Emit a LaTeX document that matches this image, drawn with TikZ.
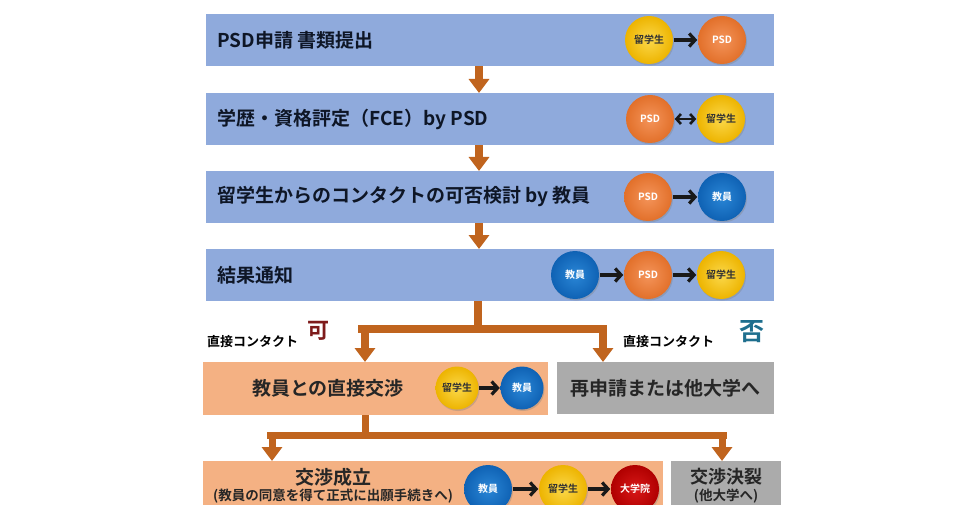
\documentclass[tikz,border=0pt]{standalone}
\usepackage{fontspec}
\setmainfont{Noto Sans CJK JP}[BoldFont={Noto Sans CJK JP Bold}]
\usetikzlibrary{arrows.meta,shadows}
\definecolor{barblue}{HTML}{8FAADC}
\definecolor{peach}{HTML}{F4B183}
\definecolor{greybox}{HTML}{ABABAB}
\definecolor{arrc}{HTML}{C0641E}
\definecolor{txtdark}{HTML}{0E1626}
\definecolor{yelL}{HTML}{FBD84A}
\definecolor{yelD}{HTML}{EDB400}
\definecolor{orgL}{HTML}{F4945A}
\definecolor{orgD}{HTML}{E2702A}
\definecolor{bluL}{HTML}{2A86D6}
\definecolor{bluD}{HTML}{0F62B4}
\definecolor{redL}{HTML}{D81818}
\definecolor{redD}{HTML}{B00000}
\definecolor{kaRed}{HTML}{7E1B1B}
\definecolor{hiTeal}{HTML}{1F6F8E}
\newcommand\fsz[1]{\fontsize{#1}{#1}\selectfont}
\begin{document}
\begin{tikzpicture}[x=1pt,y=-1pt,
  bar/.style={fill=barblue, draw=none, minimum height=52pt, minimum width=568pt, anchor=north west, inner sep=0pt},
  pbox/.style={fill=peach, draw=none, anchor=north west, inner sep=0pt},
  gbox/.style={fill=greybox, draw=none, anchor=north west, inner sep=0pt},
  bartxt/.style={anchor=west, inner sep=0pt, text=txtdark, font=\fsz{19}\bfseries},
  boxtxt/.style={inner sep=0pt, text=black!85, font=\fsz{19}\bfseries},
  subtxt/.style={inner sep=0pt, text=black!85, font=\fsz{13.5}\bfseries},
  lbltxt/.style={inner sep=0pt, text=black, font=\fsz{13}\bfseries},
  flow/.style={draw=arrc, line width=8pt, -{Triangle[width=20pt,length=14pt]}},
  conn/.style={draw=arrc, line width=8pt},
  circ/.style={circle, minimum size=48pt, inner sep=0pt, font=\fsz{10}\bfseries,
    drop shadow={shadow xshift=1pt, shadow yshift=-1.5pt, opacity=0.35}},
  scirc/.style={circ, minimum size=43pt},
  yel/.style={inner color=yelL, outer color=yelD, text=black!80},
  org/.style={inner color=orgL, outer color=orgD, text=white},
  blu/.style={inner color=bluL, outer color=bluD, text=white},
  rd/.style={inner color=redL, outer color=redD, text=white},
  carr/.style={line width=3.2pt, draw=black!90, -{Straight Barb[length=6pt,width=13pt]}, shorten <=0.5pt, shorten >=0.5pt},
  darr/.style={line width=2.6pt, draw=black!90, {Straight Barb[length=4.5pt,width=10pt]}-{Straight Barb[length=4.5pt,width=10pt]}, shorten <=0.5pt, shorten >=0.5pt}
]
\useasboundingbox (0,0) rectangle (960,505);
\fill[white] (0,0) rectangle (960,505);

% main bars
\node[bar] (b1) at (206,14) {};
\node[bar] (b2) at (206,93) {};
\node[bar] (b3) at (206,171) {};
\node[bar] (b4) at (206,249) {};

\node[bartxt] (t1) at (217,40) {PSD申請 書類提出};
\node[bartxt] (t2) at (217,119) {学歴・資格評定（FCE）by PSD};
\node[bartxt] (t3) at (217,197) {留学生からのコンタクトの可否検討 by 教員};
\node[bartxt] (t4) at (217,275) {結果通知};

% circles in bars
\node[circ,yel] (c11) at (649,40) {留学生};
\node[circ,org] (c12) at (722,40) {PSD};
\draw[carr] (c11) -- (c12);

\node[circ,org] (c21) at (650,119) {PSD};
\node[circ,yel] (c22) at (721,119) {留学生};
\draw[darr] (c21) -- (c22);

\node[circ,org] (c31) at (648,197) {PSD};
\node[circ,blu] (c32) at (722,197) {教員};
\draw[carr] (c31) -- (c32);

\node[circ,blu] (c41) at (575,275) {教員};
\node[circ,org] (c42) at (648,275) {PSD};
\node[circ,yel] (c43) at (721,275) {留学生};
\draw[carr] (c41) -- (c42);
\draw[carr] (c42) -- (c43);

% arrows between bars
\coordinate (ax) at (479,0);
\draw[flow] (b1.south -| ax) -- (b2.north -| ax);
\draw[flow] (b2.south -| ax) -- (b3.north -| ax);
\draw[flow] (b3.south -| ax) -- (b4.north -| ax);

% second level boxes
\node[pbox, minimum width=345pt, minimum height=53pt] (p1) at (203,362) {};
\node[gbox, minimum width=217pt, minimum height=52pt] (g1) at (557,362) {};
\node[boxtxt] (tp1) at (328,388) {教員との直接交渉};
\node[boxtxt] (tg1) at (665,388) {再申請または他大学へ};
\node[scirc,yel] (c51) at (457,388) {留学生};
\node[scirc,blu] (c52) at (522,388) {教員};
\draw[carr] (c51) -- (c52);

% branch 1
\coordinate (j1) at (478,329);
\coordinate (h1l) at (358,329);
\coordinate (h1r) at (607,329);
\coordinate (a1l) at (365,329);
\coordinate (a1r) at (603,329);
\draw[conn] (j1 |- b4.south) -- (j1);
\draw[conn] (h1l) -- (h1r);
\draw[flow] (a1l) -- (a1l |- p1.north);
\draw[flow] (a1r) -- (a1r |- g1.north);

\node[lbltxt, anchor=west] (l1) at (207,342) {直接コンタクト};
\node[inner sep=0pt, text=kaRed, font=\fsz{22}\bfseries] (ka) at (318,331) {可};
\node[lbltxt, anchor=west] (l2) at (623,342) {直接コンタクト};
\node[inner sep=0pt, text=hiTeal, font=\fsz{25}\bfseries] (hi) at (752,332) {否};

% third level boxes
\node[pbox, minimum width=460pt, minimum height=50pt] (p2) at (203,461) {};
\node[gbox, minimum width=110pt, minimum height=50pt] (g2) at (671,461) {};
\node[boxtxt] (tp2) at (333,477) {交渉成立};
\node[subtxt] (sp2) at (333,496) {(教員の同意を得て正式に出願手続きへ)};
\node[boxtxt, font=\fsz{18}\bfseries] (tg2) at (726,477) {交渉決裂};
\node[subtxt] (sg2) at (726,496) {(他大学へ)};

\node[circ,blu] (c71) at (488,489) {教員};
\node[circ,yel] (c72) at (563,489) {留学生};
\node[circ,rd] (c73) at (635,489) {大学院};
\draw[carr] (c71) -- (c72);
\draw[carr] (c72) -- (c73);

% branch 2
\coordinate (j2) at (365,435);
\coordinate (h2l) at (267,435);
\coordinate (h2r) at (727,435);
\coordinate (a2l) at (272,435);
\coordinate (a2r) at (722,435);
\draw[conn, line width=7pt] (j2 |- p1.south) -- (j2);
\draw[conn, line width=7pt] (h2l) -- (h2r);
\draw[flow, line width=7pt] (a2l) -- (a2l |- p2.north);
\draw[flow, line width=7pt] (a2r) -- (a2r |- g2.north);
\end{tikzpicture}
\end{document}
